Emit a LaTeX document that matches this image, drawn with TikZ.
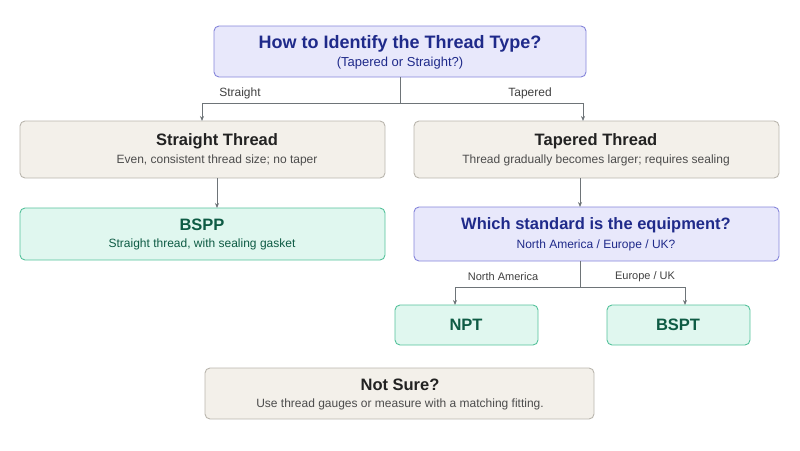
\documentclass[tikz,border=0pt]{standalone}
\usepackage{fontspec}
\setmainfont{Liberation Sans}
\usetikzlibrary{arrows.meta}
\definecolor{pfill}{HTML}{E8E8FB}\definecolor{pline}{HTML}{8585DA}\definecolor{ptext}{HTML}{1F2A8A}
\definecolor{bfill}{HTML}{F3F0EA}\definecolor{bline}{HTML}{BAB6AE}\definecolor{btext}{HTML}{222222}
\definecolor{gfill}{HTML}{E0F7EF}\definecolor{gline}{HTML}{55C29B}\definecolor{gtext}{HTML}{0E5B44}
\definecolor{conn}{HTML}{6E7478}
\begin{document}
\begin{tikzpicture}[x=1pt,y=-1pt,
 box/.style={draw,rounded corners=5pt,line width=0.9pt,inner sep=0pt},
 pbox/.style={box,fill=pfill,draw=pline},
 bbox/.style={box,fill=bfill,draw=bline},
 gbox/.style={box,fill=gfill,draw=gline},
 tt/.style={font=\bfseries\fontsize{16.5}{19}\selectfont},
 st/.style={font=\fontsize{12}{14}\selectfont},
 lab/.style={font=\fontsize{12}{14}\selectfont,text=black!75},
 arr/.style={draw=conn,line width=0.8pt,-{Stealth[length=5pt,width=4pt]}},
 ln/.style={draw=conn,line width=0.8pt}]
\useasboundingbox (0,0) rectangle (800,450);
\path[pbox] (214,26) rectangle (586,77);
\node[tt,text=ptext,font=\bfseries\fontsize{18}{21}\selectfont] (t1) at (400,44) {How to Identify the Thread Type?};
\node[st,text=ptext,font=\fontsize{13}{15}\selectfont] (t2) at (400,63) {(Tapered or Straight?)};
\path[bbox] (20,121) rectangle (385,178);
\node[tt,text=btext] (s1) at (217,141) {Straight Thread};
\node[st,text=black!70] (s2) at (217,160) {Even, consistent thread size; no taper};
\path[bbox] (414,121) rectangle (779,178);
\node[tt,text=btext] (a1) at (596,141) {Tapered Thread};
\node[st,text=black!70] (a2) at (596,160) {Thread gradually becomes larger; requires sealing};
\path[gbox] (20,208) rectangle (385,260);
\node[tt,text=gtext] (b1) at (202,225) {BSPP};
\node[st,text=gtext] (b2) at (202,244) {Straight thread, with sealing gasket};
\path[pbox] (414,207) rectangle (779,261);
\node[tt,text=ptext] (w1) at (596,225) {Which standard is the equipment?};
\node[st,text=ptext] (w2) at (596,245) {North America / Europe / UK?};
\path[gbox] (395,305) rectangle (538,345);
\node[tt,text=gtext] (n) at (466,325) {NPT};
\path[gbox] (607,305) rectangle (750,345);
\node[tt,text=gtext] (bs) at (678,325) {BSPT};
\path[bbox] (205,368) rectangle (594,419);
\node[tt,text=btext] (ns1) at (400,385) {Not Sure?};
\node[st,text=black!70] (ns2) at (400,404) {Use thread gauges or measure with a matching fitting.};
% connectors
\coordinate (c0) at (400,77); \coordinate (c1) at (400,103);
\coordinate (l1) at (202,103); \coordinate (l2) at (202,121);
\coordinate (r1) at (583,103); \coordinate (r2) at (583,121);
\draw[ln] (c0) -- (c1); \draw[arr] (c1) -- (l1) -- (l2); \draw[arr] (c1) -- (r1) -- (r2);
\node[lab] (ls) at (240,93) {Straight};
\node[lab] (lt) at (530,93) {Tapered};
\coordinate (s0) at (217,178); \coordinate (s3) at (217,208);
\draw[arr] (s0) -- (s3);
\coordinate (a0) at (580,178); \coordinate (a3) at (580,207);
\draw[arr] (a0) -- (a3);
\coordinate (w0) at (580,261); \coordinate (w3) at (580,287);
\coordinate (nl) at (455,287); \coordinate (nl2) at (455,305);
\coordinate (nr) at (685,287); \coordinate (nr2) at (685,305);
\draw[ln] (w0) -- (w3); \draw[arr] (w3) -- (nl) -- (nl2); \draw[arr] (w3) -- (nr) -- (nr2);
\node[lab,font=\fontsize{11}{13}\selectfont] (ln1) at (503,277) {North America};
\node[lab,font=\fontsize{11}{13}\selectfont] (ln2) at (645,277) {Europe / UK};
\end{tikzpicture}
\end{document}
